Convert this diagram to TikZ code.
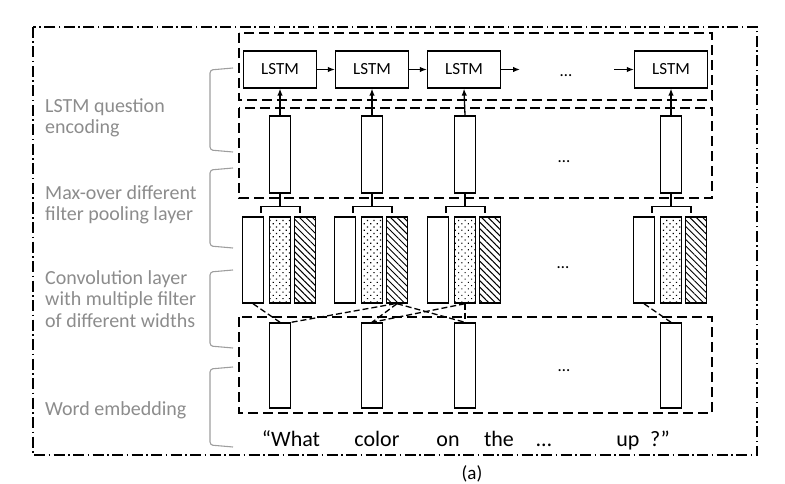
\documentclass[tikz,border=0pt]{standalone}
\usepackage{fontspec}
\setmainfont{Carlito}
\usetikzlibrary{patterns.meta,calc,arrows.meta}
\definecolor{labelgray}{gray}{0.55}
\definecolor{bracketgray}{gray}{0.62}
\begin{document}
\begin{tikzpicture}[x=1pt,y=-1pt,
  outerbox/.style={draw, line width=1.2pt, dash pattern=on 11pt off 3.5pt on 1.5pt off 3.5pt},
  regionbox/.style={draw, line width=1.4pt, dash pattern=on 10pt off 5pt},
  lstm/.style={draw, line width=1.3pt, minimum width=73pt, minimum height=37pt, inner sep=0pt, font=\fontsize{17}{20}\selectfont},
  vec/.style={draw, line width=1.4pt, minimum width=21pt, inner sep=0pt},
  pooled/.style={vec, minimum height=77pt},
  convw/.style={vec, minimum height=86pt},
  convd/.style={convw, pattern={Dots[distance=4.6pt,radius=0.8pt,angle=45]}},
  convh/.style={convw, pattern={Lines[angle=-45,distance=4.6pt,line width=1pt]}},
  emb/.style={vec, minimum height=85pt},
  flow/.style={line width=1.3pt, -{Latex[length=7pt,width=5.5pt]}},
  brace/.style={line width=1.3pt},
  link/.style={line width=1.3pt, dash pattern=on 6pt off 3pt},
  lbl/.style={text=labelgray, font=\fontsize{20}{21.5}\selectfont, align=left, anchor=west, inner sep=0pt},
  gbr/.style={draw=bracketgray, line width=1.1pt, rounded corners=3pt},
  word/.style={font=\fontsize{22}{24}\selectfont, anchor=base, inner sep=0pt},
  ell/.style={font=\fontsize{17}{20}\selectfont, inner sep=0pt}
]
\useasboundingbox (0,0) rectangle (785,484);

% outer frame and region boxes
\draw[outerbox] (33,27) rectangle (757,455);
\draw[regionbox] (239,33) rectangle (712,100);
\draw[regionbox] (239,108) rectangle (712,198);
\draw[regionbox] (239,317) rectangle (712,413);

% LSTM row
\node[lstm] (l1) at (280,69.5) {LSTM};
\node[lstm] (l2) at (372,69.5) {LSTM};
\node[lstm] (l3) at (464,69.5) {LSTM};
\node[lstm] (l4) at (671,69.5) {LSTM};
\coordinate (a3) at (520,69.5);
\coordinate (a4) at (614,69.5);
\draw[flow] (l1) -- (l2);
\draw[flow] (l2) -- (l3);
\draw[flow] (l3.east) -- (a3);
\draw[flow] (a4) -- (l4.west);
\node[ell] (dl) at (566,76) {…};

% pooled vectors
\node[pooled] (p1) at (280,154.5) {};
\node[pooled] (p2) at (372,154.5) {};
\node[pooled] (p3) at (465,154.5) {};
\node[pooled] (p4) at (671,154.5) {};
\node[ell] (dp) at (564,162) {…};
\foreach \i in {1,2,3,4}{
  \draw[flow] (p\i.north) -- (l\i.south);
  \draw[brace] (p\i.south) -- ++(0,13);
  \draw[brace] ($(p\i.south)+(-19,19)$) -- ++(0,-6) -- ++(39,0) -- ++(0,6);
}

% convolution filters
\foreach \i/\c in {1/280,2/372,3/465,4/671}{
  \node[convw] (w\i) at (\c-27,260) {};
  \node[convd] (d\i) at (\c,260) {};
  \node[convh] (h\i) at (\c+25,260) {};
}
\node[ell] (dc) at (563,268) {…};

% word embeddings
\node[emb] (e1) at (280,365.5) {};
\node[emb] (e2) at (372,365.5) {};
\node[emb] (e3) at (465,365.5) {};
\node[emb] (e4) at (671,365.5) {};
\node[ell] (de) at (564,371) {…};

% filter links
\draw[link] (w1.south) -- (e1.north);
\draw[link] ($(h2.south)+(-2,0)$) -- (e1.north east);
\draw[link] (h2.south) -- (e2.north);
\draw[link] (h2.south) -- (e3.north);
\draw[link] (d3.south) -- (e2.north);
\draw[link] (d3.south) -- (e3.north);
\draw[link] (w4.south) -- (e4.north);

% words
\node[word] (q1) at (291,446) {“What};
\node[word] (q2) at (377,446) {color};
\node[word] (q3) at (448,446) {on};
\node[word] (q4) at (499,446) {the};
\node[word] (q5) at (544,446) {…};
\node[word] (q6) at (628,446) {up};
\node[word] (q7) at (660,446) {?”};

\node[font=\fontsize{19}{20}\selectfont, inner sep=0pt] (cap) at (472,474) {(a)};

% left labels and brackets
\node[lbl] (t1) at (45,118) {LSTM question\\encoding};
\node[lbl] (t2) at (45,205) {Max-over different\\filter pooling layer};
\node[lbl] (t3) at (45,299) {Convolution layer\\with multiple filter\\of different widths};
\node[lbl] (t4) at (45,410) {Word embedding};

\draw[gbr] (233,68) -- (210,70) -- (210,150) -- (233,152);
\draw[gbr] (233,168) -- (210,170) -- (210,246) -- (233,248);
\draw[gbr] (233,270) -- (210,272) -- (210,346) -- (233,348);
\draw[gbr] (233,367) -- (210,369) -- (210,445) -- (233,447);
\end{tikzpicture}
\end{document}
